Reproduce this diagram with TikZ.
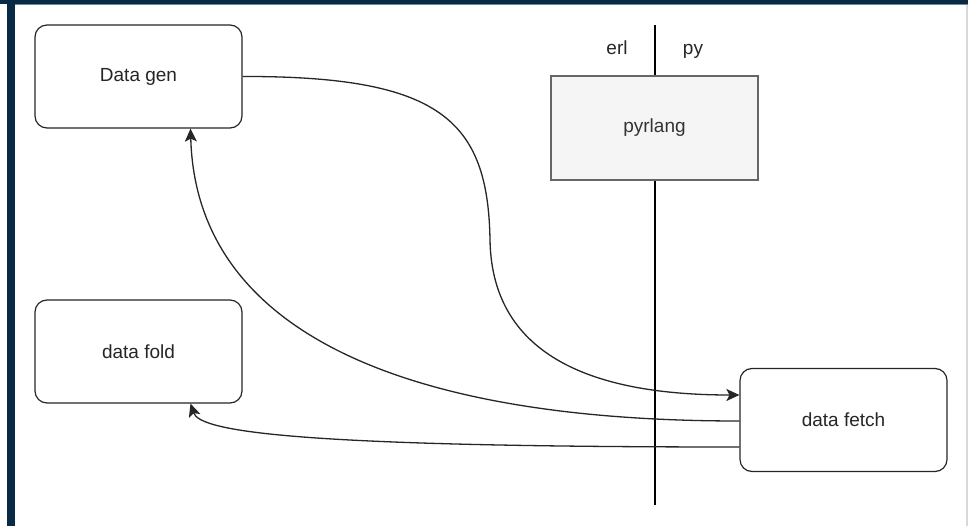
\documentclass[tikz,border=0pt]{standalone}
\usepackage{fontspec}
\setmainfont{Liberation Sans}
\usetikzlibrary{arrows.meta}
\definecolor{navy}{RGB}{8,42,68}
\definecolor{navyline}{RGB}{110,135,155}
\definecolor{edgegray}{RGB}{102,102,102}
\definecolor{pyfill}{RGB}{245,245,245}
\begin{document}
\begin{tikzpicture}[x=1pt,y=-1pt,
  rbox/.style={draw=black!85, line width=1.2pt, rounded corners=12pt, minimum width=207pt, minimum height=103pt, inner sep=0pt, font=\fontsize{19}{22}\selectfont, text=black!85},
  pbox/.style={draw=edgegray, fill=pyfill, line width=1.2pt, minimum width=207pt, minimum height=104pt, inner sep=0pt, font=\fontsize{19}{22}\selectfont, text=black!80},
  lbl/.style={inner sep=0pt, anchor=base, font=\fontsize{19}{22}\selectfont, text=black!85},
  conn/.style={draw=black!85, line width=1.3pt, -{Stealth[length=13pt,width=12pt,inset=3pt]}}
]
\useasboundingbox (0,0) rectangle (968,526);
% frame
\fill[white] (0,0) rectangle (968,526);
\fill[navy] (0,0) rectangle (968,4.5);
\fill[navyline] (15,4.5) rectangle (968,5.5);
\fill[navy] (7,0) rectangle (15,526);
\fill[black!15] (966,5) rectangle (968,526);
% divider line
\coordinate (vt) at (655,25);
\coordinate (vb) at (655,505);
\draw[black, line width=1.2pt] (vt) -- (vb);
\node[lbl] (erl) at (617,55) {erl};
\node[lbl] (py) at (693,55) {py};
% boxes
\node[rbox] (dg) at (138.5,76.5) {Data gen};
\node[rbox] (dfo) at (138.5,351.5) {data fold};
\node[rbox] (fe) at (843.5,420) {data fetch};
\node[pbox] (pl) at (654.5,128) {pyrlang};
% connectors
\coordinate (bend) at (490,240);
\draw[conn] (dg.east) .. controls (440,76) and (488,120) .. (bend) .. controls (492,360) and (600,395) .. ([yshift=25pt]fe.west);
\draw[conn] ([yshift=-1pt]fe.west) .. controls (400,421) and (196,330) .. ([xshift=52pt]dg.south);
\draw[conn] ([yshift=-27pt]fe.west) .. controls (300,447) and (200,432) .. ([xshift=52pt]dfo.south);
\end{tikzpicture}
\end{document}
